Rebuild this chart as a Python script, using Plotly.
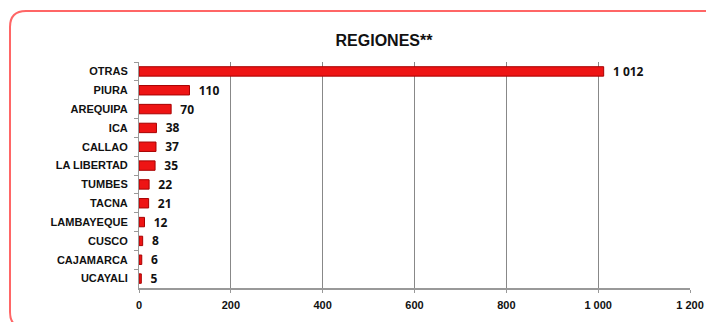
import plotly.graph_objects as go

regiones = ["OTRAS", "PIURA", "AREQUIPA", "ICA", "CALLAO", "LA LIBERTAD",
            "TUMBES", "TACNA", "LAMBAYEQUE", "CUSCO", "CAJAMARCA", "UCAYALI"]
valores = [1012, 110, 70, 38, 37, 35, 22, 21, 12, 8, 6, 5]
x_ticks = [0, 200, 400, 600, 800, 1000, 1200]

W, H = 706, 322
L, R, T, B = 139, 16, 62, 34

def px(x):
    return (x - L) / (W - L - R)

def py(y):
    return (H - B - y) / (H - T - B)

fig = go.Figure()
fig.add_trace(go.Bar(
    y=regiones, x=valores, orientation="h",
    marker=dict(color="#EE1414", line=dict(color="#A80000", width=1)),
    texttemplate="  %{x:,}", textposition="outside", constraintext="none",
    textfont=dict(family="Open Sans", size=12, color="#111111", weight="bold"),
    cliponaxis=False, width=0.5,
))

# rounded frame around the chart
x0, x1, y0, y1, r = 10, 720, 11, 328, 16
path = (f"M {px(x0+r)},{py(y0)} L {px(x1-r)},{py(y0)} "
        f"Q {px(x1)},{py(y0)} {px(x1)},{py(y0+r)} L {px(x1)},{py(y1-r)} "
        f"Q {px(x1)},{py(y1)} {px(x1-r)},{py(y1)} L {px(x0+r)},{py(y1)} "
        f"Q {px(x0)},{py(y1)} {px(x0)},{py(y1-r)} L {px(x0)},{py(y0+r)} "
        f"Q {px(x0)},{py(y0)} {px(x0+r)},{py(y0)} Z")
fig.add_shape(type="path", path=path, xref="paper", yref="paper",
              line=dict(color="#FF6666", width=2))

fig.update_layout(
    width=W, height=H,
    margin=dict(l=L, r=R, t=T, b=B, autoexpand=False),
    paper_bgcolor="white", plot_bgcolor="white",
    separators=", ",
    showlegend=False,
    title=dict(text="REGIONES**", x=384 / W, xanchor="center",
               y=1 - 40 / H, yanchor="middle",
               font=dict(family="Liberation Sans", size=16, color="#111111", weight="bold")),
    font=dict(family="Liberation Sans", size=11, color="#111111"),
)
fig.update_xaxes(
    range=[0, 1200], tickvals=x_ticks, tickformat=",", separatethousands=True,
    showgrid=True, gridcolor="#888888", gridwidth=1,
    showline=True, linecolor="#999999", linewidth=1.5,
    ticks="outside", ticklen=3, tickcolor="#999999", ticklabelstandoff=3,
    tickfont=dict(family="Liberation Sans", size=11, color="#111111", weight="bold"),
    zeroline=False,
)
fig.update_yaxes(
    autorange="reversed", showline=True, linecolor="#999999", linewidth=1,
    ticks="outside", ticklen=4, tickcolor="#999999", tickson="boundaries",
    ticklabelstandoff=8,
    tickfont=dict(family="Liberation Sans", size=11, color="#111111", weight="bold"),
)

fig.write_html("out.html", config={"displayModeBar": False},
               post_script="document.body.style.margin='0px';")
